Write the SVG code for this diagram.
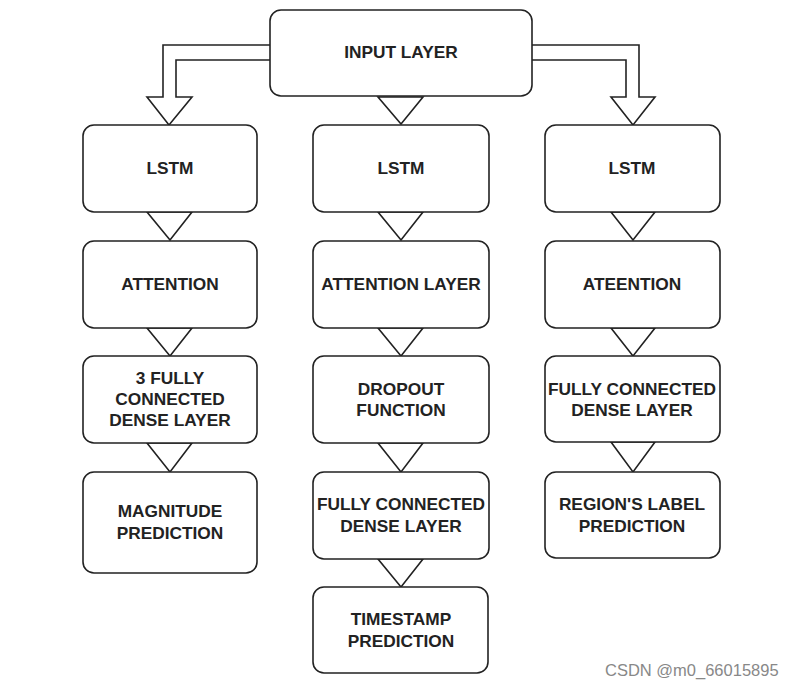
<svg xmlns="http://www.w3.org/2000/svg" width="795" height="688" viewBox="0 0 795 688">
<style>
.box{fill:#fff;stroke:#222;stroke-width:1.6}
.arr{fill:#fff;stroke:#222;stroke-width:1.6;stroke-linejoin:miter}
.t{font-family:"Liberation Sans",Arial,sans-serif;font-weight:bold;font-size:17.3px;fill:#222;text-anchor:middle}
.wm{font-family:"Liberation Sans",Arial,sans-serif;font-size:16.5px;fill:#888}
</style>
<rect width="795" height="688" fill="#fff"/>
<g id="connectors">
<path class="arr" d="M270,45 H163 V97 H147 L169,125 L192,97 H176 V60 H270"/>
<path class="arr" d="M532,45 H639 V97 H655 L633,125 L611,97 H626 V60 H532"/>
<polygon class="arr" points="378,97 423,97 401,124"/>
<polygon class="arr" points="147,212 192,212 170,240"/>
<polygon class="arr" points="147,328 192,328 170,356"/>
<polygon class="arr" points="147,443 192,443 170,472"/>
<polygon class="arr" points="378,212 423,212 401,240"/>
<polygon class="arr" points="378,328 423,328 401,356"/>
<polygon class="arr" points="378,443 423,443 401,472"/>
<polygon class="arr" points="378,559 423,559 401,587"/>
<polygon class="arr" points="611,212 655,212 633,240"/>
<polygon class="arr" points="611,328 655,328 633,356"/>
<polygon class="arr" points="611,442 655,442 633,472"/>
</g>
<g id="input"><rect class="box" x="270" y="10" width="262" height="86" rx="11"/><text class="t" x="401" y="58">INPUT LAYER</text></g>
<g id="lstm1"><rect class="box" x="83" y="125" width="174" height="87" rx="11"/><text class="t" x="170" y="174">LSTM</text></g>
<g id="lstm2"><rect class="box" x="313" y="125" width="176" height="87" rx="11"/><text class="t" x="401" y="174">LSTM</text></g>
<g id="lstm3"><rect class="box" x="545" y="125" width="175" height="87" rx="11"/><text class="t" x="632" y="174">LSTM</text></g>
<g id="att1"><rect class="box" x="83" y="241" width="174" height="87" rx="11"/><text class="t" x="170" y="290">ATTENTION</text></g>
<g id="att2"><rect class="box" x="313" y="241" width="176" height="87" rx="11"/><text class="t" x="401" y="290">ATTENTION LAYER</text></g>
<g id="att3"><rect class="box" x="545" y="241" width="175" height="87" rx="11"/><text class="t" x="632" y="290">ATEENTION</text></g>
<g id="fc1"><rect class="box" x="83" y="356" width="174" height="87" rx="11"/><text class="t" x="170" y="384">3 FULLY</text><text class="t" x="170" y="405">CONNECTED</text><text class="t" x="170" y="426">DENSE LAYER</text></g>
<g id="dropout"><rect class="box" x="313" y="356" width="176" height="87" rx="11"/><text class="t" x="401" y="395">DROPOUT</text><text class="t" x="401" y="416">FUNCTION</text></g>
<g id="fc3"><rect class="box" x="545" y="356" width="175" height="86" rx="11"/><text class="t" x="632" y="395">FULLY CONNECTED</text><text class="t" x="632" y="416">DENSE LAYER</text></g>
<g id="magnitude"><rect class="box" x="83" y="472" width="174" height="101" rx="11"/><text class="t" x="170" y="517">MAGNITUDE</text><text class="t" x="170" y="539">PREDICTION</text></g>
<g id="fc2"><rect class="box" x="313" y="472" width="176" height="87" rx="11"/><text class="t" x="401" y="510">FULLY CONNECTED</text><text class="t" x="401" y="532">DENSE LAYER</text></g>
<g id="region"><rect class="box" x="545" y="472" width="175" height="86" rx="11"/><text class="t" x="632" y="510">REGION'S LABEL</text><text class="t" x="632" y="532">PREDICTION</text></g>
<g id="timestamp"><rect class="box" x="313" y="587" width="175" height="86" rx="11"/><text class="t" x="401" y="625">TIMESTAMP</text><text class="t" x="401" y="647">PREDICTION</text></g>
<text class="wm" x="605" y="676">CSDN @m0_66015895</text>
</svg>
